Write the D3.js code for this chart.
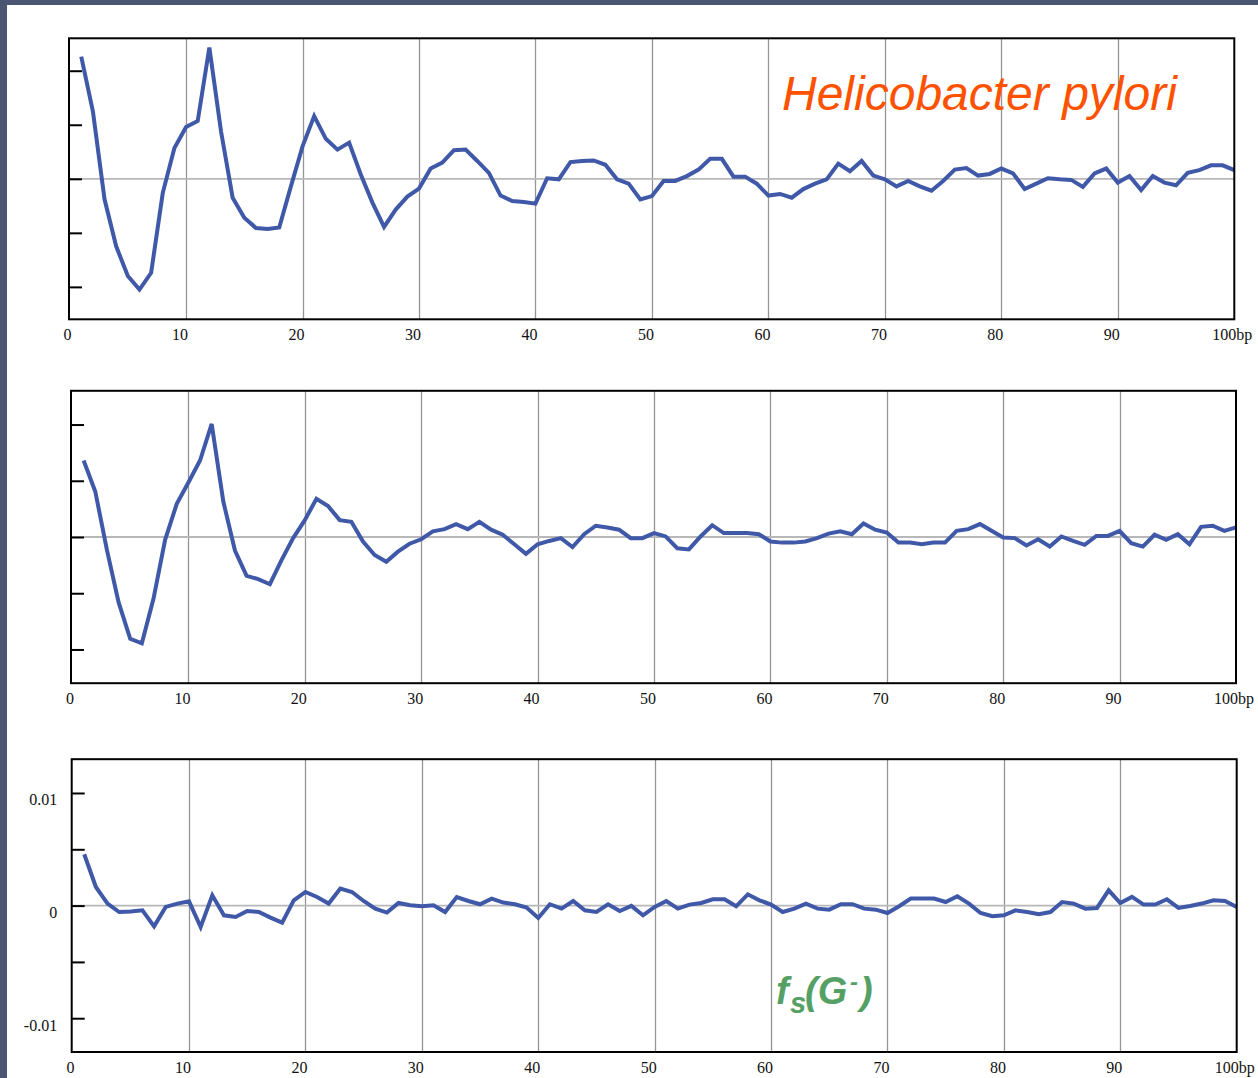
<!DOCTYPE html>
<html>
<head>
<meta charset="utf-8">
<script src="https://cdn.jsdelivr.net/npm/d3@7"></script>
<style>
html,body{margin:0;padding:0;background:#fff;overflow:hidden;}
svg{display:block;}
</style>
</head>
<body>
<svg id="chart" width="1258" height="1078"></svg>
<script>
// ---------------- DATA ----------------
const positions = d3.range(1, 101); // bp offsets 1..100

const xTickValues = [0, 10, 20, 30, 40, 50, 60, 70, 80, 90, 100];
const xTickLabels = ["0", "10", "20", "30", "40", "50", "60", "70", "80", "90", "100"];
const xUnitLabel = "bp";

// Top panel: Helicobacter pylori (arbitrary units, tick spacing = 1)
const helicobacterSeries = [
  2.26, 1.25, -0.38, -1.25, -1.80, -2.05, -1.74, -0.26, 0.57, 0.96,
  1.07, 2.43, 0.88, -0.35, -0.72, -0.91, -0.93, -0.90, -0.14, 0.60,
  1.16, 0.74, 0.54, 0.67, 0.08, -0.44, -0.89, -0.57, -0.33, -0.18,
  0.19, 0.30, 0.53, 0.54, 0.33, 0.11, -0.31, -0.41, -0.43, -0.46,
  0.01, -0.01, 0.31, 0.33, 0.34, 0.26, -0.01, -0.09, -0.38, -0.32,
  -0.04, -0.04, 0.05, 0.17, 0.37, 0.37, 0.04, 0.04, -0.09, -0.31,
  -0.28, -0.35, -0.19, -0.09, -0.01, 0.28, 0.14, 0.33, 0.06, -0.01,
  -0.14, -0.04, -0.14, -0.22, -0.04, 0.17, 0.20, 0.06, 0.09, 0.19,
  0.10, -0.19, -0.09, 0.01, -0.01, -0.02, -0.15, 0.10, 0.19, -0.07,
  0.05, -0.21, 0.05, -0.07, -0.12, 0.11, 0.16, 0.25, 0.25, 0.16
];

// Middle panel (arbitrary units, tick spacing = 1)
const middleSeries = [
  1.36, 0.81, -0.23, -1.16, -1.81, -1.89, -1.10, -0.05, 0.59, 0.97,
  1.36, 2.01, 0.63, -0.24, -0.69, -0.75, -0.84, -0.41, -0.02, 0.30,
  0.68, 0.55, 0.30, 0.27, -0.08, -0.32, -0.44, -0.26, -0.12, -0.04,
  0.10, 0.14, 0.23, 0.14, 0.27, 0.13, 0.04, -0.13, -0.30, -0.13,
  -0.07, -0.02, -0.18, 0.05, 0.20, 0.17, 0.13, -0.02, -0.02, 0.07,
  0.01, -0.20, -0.22, 0.01, 0.21, 0.07, 0.07, 0.07, 0.05, -0.08,
  -0.10, -0.10, -0.08, -0.02, 0.06, 0.10, 0.05, 0.24, 0.13, 0.08,
  -0.10, -0.10, -0.13, -0.10, -0.10, 0.11, 0.14, 0.23, 0.11, -0.01,
  -0.02, -0.15, -0.04, -0.17, 0.01, -0.07, -0.14, 0.02, 0.02, 0.11,
  -0.11, -0.17, 0.04, -0.05, 0.05, -0.13, 0.18, 0.20, 0.11, 0.17
];

// Bottom panel: f_s(G-)
const gSkewSeries = [
  0.00456, 0.00165, 0.00018, -0.00057, -0.00053, -0.00042, -0.00184, -0.00012, 0.00018, 0.00038,
  -0.00190, 0.00091, -0.00086, -0.00101, -0.00048, -0.00057, -0.00107, -0.00151, 0.00047, 0.00121,
  0.00076, 0.00018, 0.00151, 0.00121, 0.00041, -0.00027, -0.00062, 0.00023, 0.00003, -0.00006,
  0.00003, -0.00057, 0.00076, 0.00041, 0.00012, 0.00062, 0.00027, 0.00012, -0.00018, -0.00110,
  0.00012, -0.00027, 0.00041, -0.00042, -0.00057, 0.00012, -0.00048, -0.00003, -0.00086, -0.00012,
  0.00041, -0.00027, 0.00009, 0.00023, 0.00056, 0.00056, -0.00006, 0.00100, 0.00047, 0.00009,
  -0.00057, -0.00027, 0.00018, -0.00027, -0.00036, 0.00012, 0.00012, -0.00027, -0.00036, -0.00066,
  -0.00006, 0.00062, 0.00062, 0.00062, 0.00032, 0.00083, 0.00018, -0.00066, -0.00095, -0.00086,
  -0.00042, -0.00057, -0.00077, -0.00057, 0.00032, 0.00018, -0.00027, -0.00021, 0.00136, 0.00023,
  0.00077, 0.00009, 0.00009, 0.00056, -0.00021, -0.00003, 0.00018, 0.00047, 0.00041, -0.00012
];

const unitTicks = [-2, -1, 0, 1, 2];
const gSkewTicks = [-0.01, -0.005, 0, 0.005, 0.01];
const gSkewLabelledTicks = [-0.01, 0, 0.01];
const gSkewTickLabels = ["-0.01", "0", "0.01"];

const speciesLabel = "Helicobacter pylori";

// ---------------- DRAWING ----------------
const svg = d3.select("#chart");
const SERIF = "'Liberation Serif','Times New Roman',Times,serif";
const SANS = "'Liberation Sans',Arial,Helvetica,sans-serif";
const LINE_COLOR = "#3f58a8";

// slide frame
svg.append("rect").attr("x", 0).attr("y", 0).attr("width", 1258).attr("height", 1078).attr("fill", "#ffffff");
svg.append("rect").attr("x", 0).attr("y", 0).attr("width", 1258).attr("height", 5).attr("fill", "#4a5672");
svg.append("rect").attr("x", 0).attr("y", 0).attr("width", 7).attr("height", 1078).attr("fill", "#4a5672");

function drawPanel(cfg) {
  const { left, top, right, bottom, xStart, yDomain, values, yTicks, yLabelValues, yLabels } = cfg;
  const x = d3.scaleLinear().domain([0, 100]).range([xStart, right]);
  const y = d3.scaleLinear().domain(yDomain).range([bottom, top]);
  const g = svg.append("g");

  // vertical grid lines
  g.append("g")
    .selectAll("line")
    .data(xTickValues.filter(v => v > 0 && v < 100))
    .join("line")
    .attr("x1", d => Math.round(x(d)) + 0.5)
    .attr("x2", d => Math.round(x(d)) + 0.5)
    .attr("y1", top)
    .attr("y2", bottom)
    .attr("stroke", "#959595")
    .attr("stroke-width", 1.3);

  // zero line
  g.append("line")
    .attr("x1", left).attr("x2", right)
    .attr("y1", y(0)).attr("y2", y(0))
    .attr("stroke", "#b8b8b8")
    .attr("stroke-width", 1.8);

  // data line
  const line = d3.line()
    .x((d, i) => x(positions[i]))
    .y(d => y(d));
  g.append("path")
    .datum(values)
    .attr("d", line)
    .attr("fill", "none")
    .attr("stroke", LINE_COLOR)
    .attr("stroke-width", 4)
    .attr("stroke-linejoin", "miter")
    .attr("stroke-miterlimit", 4);

  // y ticks (inside)
  const yAxis = d3.axisLeft(y).tickValues(yTicks).tickSizeInner(-13).tickSizeOuter(0).tickFormat("");
  const ya = g.append("g").attr("transform", `translate(${left},0)`).call(yAxis);
  ya.select(".domain").remove();
  ya.selectAll(".tick line").attr("stroke", "#000").attr("stroke-width", 2);

  // y labels
  if (yLabelValues) {
    g.append("g")
      .selectAll("text")
      .data(yLabelValues)
      .join("text")
      .attr("x", left - 14.5)
      .attr("y", d => y(d) + 12.5)
      .attr("text-anchor", "end")
      .attr("font-family", SERIF)
      .attr("font-size", 16)
      .attr("fill", "#111")
      .text((d, i) => yLabels[i]);
  }

  // box
  g.append("rect")
    .attr("x", left).attr("y", top)
    .attr("width", right - left).attr("height", bottom - top)
    .attr("fill", "none")
    .attr("stroke", "#000")
    .attr("stroke-width", 2);

  // x labels
  const xl = g.append("g");
  xl.selectAll("text.num")
    .data(xTickValues)
    .join("text")
    .attr("class", "num")
    .attr("x", d => x(d) + 2)
    .attr("y", bottom + 21)
    .attr("text-anchor", "end")
    .attr("font-family", SERIF)
    .attr("font-size", 16)
    .attr("fill", "#111")
    .text((d, i) => xTickLabels[i]);
  xl.append("text")
    .attr("x", x(100) + 2)
    .attr("y", bottom + 21)
    .attr("text-anchor", "start")
    .attr("font-family", SERIF)
    .attr("font-size", 16)
    .attr("fill", "#111")
    .text(xUnitLabel);

  return { x, y, g };
}

drawPanel({
  left: 69, top: 38.3, right: 1234.3, bottom: 319.3, xStart: 69.6,
  yDomain: [-2.6, 2.6], values: helicobacterSeries, yTicks: unitTicks
});

drawPanel({
  left: 71, top: 390.8, right: 1236, bottom: 683.2, xStart: 72,
  yDomain: [-2.6, 2.6], values: middleSeries, yTicks: unitTicks
});

drawPanel({
  left: 71.7, top: 759.2, right: 1236.7, bottom: 1052, xStart: 72.6,
  yDomain: [-0.013, 0.013], values: gSkewSeries, yTicks: gSkewTicks,
  yLabelValues: gSkewLabelledTicks, yLabels: gSkewTickLabels
});

// annotations
svg.append("text")
  .attr("x", 782)
  .attr("y", 110)
  .attr("font-family", SANS)
  .attr("font-style", "italic")
  .attr("font-size", 48)
  .attr("fill", "#ff5200")
  .text(speciesLabel);

const fs = svg.append("text")
  .attr("y", 1004)
  .attr("font-family", SANS)
  .attr("font-style", "italic")
  .attr("font-weight", "bold")
  .attr("font-size", 38)
  .attr("fill", "#55a064");
fs.append("tspan").attr("x", 776).text("f");
fs.append("tspan").attr("x", 790).attr("dy", 9).attr("font-size", 29).text("s");
fs.append("tspan").attr("x", 805).attr("dy", -9).text("(G");
fs.append("tspan").attr("x", 850).attr("dy", -14).attr("font-size", 24).text("-");
fs.append("tspan").attr("x", 860).attr("dy", 14).text(")");
</script>
</body>
</html>
